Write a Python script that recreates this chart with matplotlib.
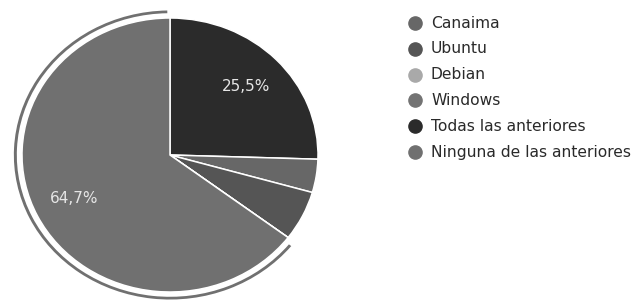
import matplotlib
matplotlib.use("Agg")
import matplotlib.pyplot as plt
from matplotlib.patches import Wedge
from matplotlib.lines import Line2D

plt.rcParams['font.family'] = ['DejaVu Sans']

# datos (respuestas)
categorias = ["Canaima", "Ubuntu", "Debian", "Windows",
              "Todas las anteriores", "Ninguna de las anteriores"]
respuestas = [2, 3, 0, 0, 13, 33]
colores = ["#676767", "#555555", "#a9a9a9", "#737373", "#2b2b2b", "#707070"]


def etiqueta(pct):
    # solo se muestran los porcentajes grandes
    if pct < 10:
        return ""
    return ("%.1f%%" % pct).replace(".", ",")


fig = plt.figure(figsize=(6.35, 3.0), dpi=100)

# centro (170,155) px, radio ~148 x 137 px
lim = 1.1
cx, cy, rx, ry = 170, 155, 148, 137
ax = fig.add_axes([(cx - rx * lim) / 635, (300 - cy - ry * lim) / 300,
                   2 * rx * lim / 635, 2 * ry * lim / 300])

# orden de dibujo: Todas primero desde las 12, luego Canaima, Ubuntu, ..., Ninguna
orden = [4, 0, 1, 2, 3, 5]
valores = [respuestas[i] for i in orden]
cols = [colores[i] for i in orden]

wedges, textos, autotextos = ax.pie(
    valores, colors=cols, startangle=90, counterclock=False,
    autopct=etiqueta, pctdistance=0.72,
    wedgeprops=dict(edgecolor="white", linewidth=1.1),
    textprops=dict(color="#e6e6e6", fontsize=11))

# anillo de resaltado alrededor de "Ninguna de las anteriores"
w = wedges[-1]
anillo = Wedge((0, 0), 1.055, w.theta1 + 1.0, w.theta2 - 2.0, width=0.02,
               facecolor=colores[5], edgecolor="none")
ax.add_patch(anillo)

ax.set_xlim(-lim, lim)
ax.set_ylim(-lim, lim)
ax.set_aspect("auto")
ax.axis("off")

# leyenda
y0 = 23
paso = 25.8
for i, (cat, col) in enumerate(zip(categorias, colores)):
    y = 1 - (y0 + i * paso) / 300
    fig.add_artist(Line2D([415 / 635], [y], marker="o", markersize=9.5,
                          color=col, linestyle="none",
                          transform=fig.transFigure))
    fig.text(431 / 635, y, cat, fontsize=11.2, color="#2a2a2a",
             va="center", ha="left")

fig.savefig("out.png", dpi=100)
